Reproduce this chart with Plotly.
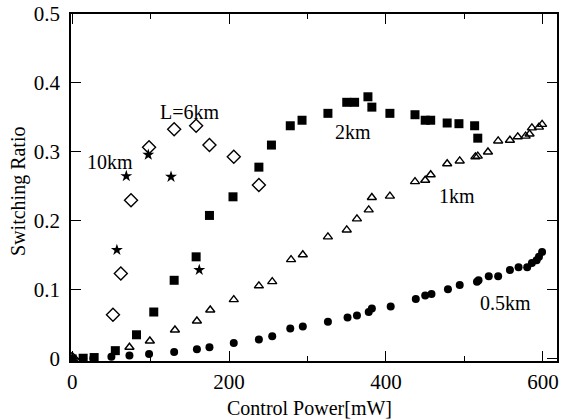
import plotly.graph_objects as go

# 10 km (stars)
x_10km = [57, 69, 97, 126, 162]
y_10km = [0.158, 0.265, 0.296, 0.264, 0.129]

# L = 6 km (open diamonds)
x_6km = [0, 52, 62, 75, 98, 130, 158, 175, 206, 238]
y_6km = [0, 0.064, 0.124, 0.230, 0.307, 0.333, 0.338, 0.310, 0.293, 0.252]

# 2 km (filled squares)
x_2km = [0, 14, 28, 55, 82, 104, 130, 158, 175, 205, 238, 254, 278, 293, 326,
         350, 360, 377, 382, 405, 437, 450, 457, 478, 493, 513, 517]
y_2km = [0, 0.001, 0.002, 0.012, 0.035, 0.068, 0.114, 0.148, 0.208, 0.235, 0.278,
         0.310, 0.338, 0.346, 0.356, 0.372, 0.372, 0.380, 0.365, 0.356, 0.354,
         0.346, 0.346, 0.342, 0.341, 0.338, 0.320]

# 1 km (open triangles)
x_1km = [0, 73, 99, 131, 159, 176, 206, 238, 255, 279, 294, 326, 350, 363, 378,
         382, 405, 437, 450, 457, 478, 494, 514, 517, 530, 543, 558, 568, 578,
         583, 586, 595, 599]
y_1km = [0, 0.017, 0.026, 0.042, 0.055, 0.071, 0.086, 0.106, 0.112, 0.144, 0.151,
         0.177, 0.187, 0.203, 0.216, 0.234, 0.236, 0.257, 0.259, 0.267, 0.283,
         0.287, 0.293, 0.294, 0.300, 0.316, 0.317, 0.322, 0.323, 0.326, 0.335,
         0.336, 0.340]

# 0.5 km (filled circles)
x_05km = [0, 14, 27, 50, 73, 98, 130, 159, 175, 206, 238, 255, 278, 294, 326,
          351, 363, 378, 382, 406, 438, 450, 458, 479, 494, 516, 518, 531, 543,
          558, 569, 580, 586, 592, 595, 599]
y_05km = [0, 0.001, 0.001, 0.003, 0.005, 0.007, 0.010, 0.014, 0.017, 0.023, 0.028,
          0.033, 0.044, 0.047, 0.054, 0.060, 0.063, 0.068, 0.073, 0.076, 0.087,
          0.092, 0.094, 0.101, 0.107, 0.112, 0.114, 0.120, 0.120, 0.129, 0.133,
          0.133, 0.139, 0.143, 0.148, 0.155]

# Curve labels
label_text = ["L=6km", "10km", "2km", "1km", "0.5km"]
label_x = [149, 48, 358, 490, 552]
label_y = [0.358, 0.286, 0.329, 0.236, 0.081]

x_ticks = [0, 200, 400, 600]
y_ticks = [0, 0.1, 0.2, 0.3, 0.4, 0.5]
y_tick_text = ["0", "0.1", "0.2", "0.3", "0.4", "0.5"]

x_title = "Control Power[mW]"
y_title = "Switching Ratio"

FONT = "Liberation Serif"

fig = go.Figure()
fig.add_trace(go.Scatter(x=x_05km, y=y_05km, mode="markers",
                         marker=dict(symbol="circle", size=8, color="black")))
fig.add_trace(go.Scatter(x=x_1km, y=y_1km, mode="markers",
                         marker=dict(symbol="triangle-up-open", size=8, color="black",
                                     line=dict(width=1.4, color="black"))))
fig.add_trace(go.Scatter(x=x_2km, y=y_2km, mode="markers",
                         marker=dict(symbol="square", size=9, color="black")))
fig.add_trace(go.Scatter(x=x_6km, y=y_6km, mode="markers",
                         marker=dict(symbol="diamond-open", size=10, color="black",
                                     line=dict(width=1.4, color="black"))))
fig.add_trace(go.Scatter(x=x_10km, y=y_10km, mode="markers",
                         marker=dict(symbol="star", size=9, color="black")))

for t, lx, ly in zip(label_text, label_x, label_y):
    fig.add_annotation(x=lx, y=ly, text=t, showarrow=False,
                       font=dict(family=FONT, size=20, color="black"))

fig.add_annotation(xref="paper", yref="paper", x=0.49, y=-0.135, text=x_title,
                   showarrow=False, xanchor="center", yanchor="middle",
                   font=dict(family=FONT, size=20, color="black"))
fig.add_annotation(xref="paper", yref="paper", x=-0.107, y=0.49, text=y_title,
                   showarrow=False, xanchor="center", yanchor="middle", textangle=-90,
                   font=dict(family=FONT, size=20, color="black"))

fig.update_layout(
    width=562, height=419,
    margin=dict(l=71, r=5, t=14, b=58),
    plot_bgcolor="white", paper_bgcolor="white",
    showlegend=False,
    font=dict(family=FONT, size=20, color="black"),
)
fig.update_xaxes(
    range=[-1.5, 618], tickvals=x_ticks, ticks="inside", ticklen=10,
    tickcolor="black", showline=True, linecolor="black", linewidth=1.5,
    mirror="ticks", showgrid=False, zeroline=False, automargin=False,
    minor=dict(dtick=100, tick0=0, ticks="inside", ticklen=5, tickcolor="black"),
    tickfont=dict(family=FONT, size=21), ticklabelstandoff=1,
)
fig.update_yaxes(
    range=[-0.003, 0.5], tickvals=y_ticks, ticktext=y_tick_text, ticks="inside",
    ticklen=10, tickcolor="black", showline=True, linecolor="black", linewidth=1.5,
    mirror="ticks", showgrid=False, zeroline=False, automargin=False,
    tickfont=dict(family=FONT, size=21), ticklabelstandoff=5,
)

fig.write_html("out.html", config={"displayModeBar": False},
               post_script="document.body.style.margin='0';document.body.style.overflow='hidden';")
